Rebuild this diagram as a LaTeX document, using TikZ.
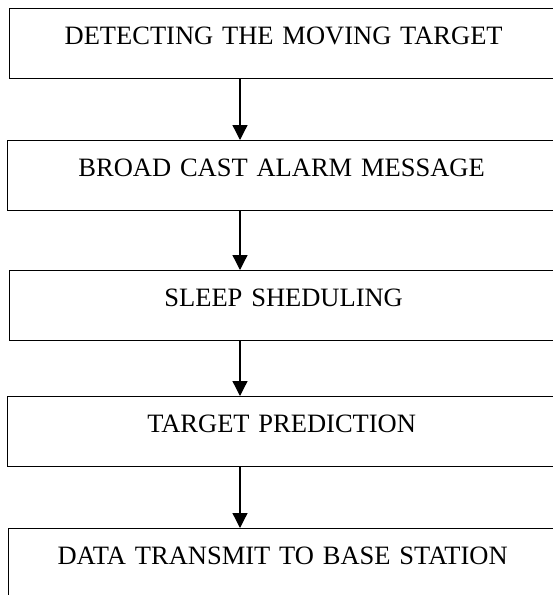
\documentclass[tikz,border=0pt]{standalone}
\usepackage{fontspec}
\setmainfont{Liberation Serif}
\usetikzlibrary{arrows.meta}

\tikzset{
  stagebox/.style={draw,line width=1.3pt,inner sep=0pt,anchor=north west,
    text width=548pt,align=center,text height=36pt,text depth=34pt,
    font=\fontsize{26.5}{30}\selectfont},
  flowarrow/.style={line width=1.3pt,-{Triangle[width=15pt,length=15pt]}}
}

\begin{document}
\begin{tikzpicture}[x=1pt,y=-1pt]
\useasboundingbox (0,0) rectangle (553,595);
\clip (0,0) rectangle (553,595);

% Boxes
\node[stagebox] (detect) at (9,8) {DETECTING THE MOVING TARGET};
\node[stagebox] (alarm) at (7,140) {BROAD CAST ALARM MESSAGE};
\node[stagebox] (sleep) at (9,270) {SLEEP SHEDULING};
\node[stagebox] (predict) at (7,396) {TARGET PREDICTION};
\node[stagebox] (transmit) at (8,528) {DATA TRANSMIT TO BASE STATION};

% Arrows
\coordinate (ax) at (240,0);
\draw[flowarrow] (detect.south -| ax) -- (alarm.north -| ax);
\draw[flowarrow] (alarm.south -| ax) -- (sleep.north -| ax);
\draw[flowarrow] (sleep.south -| ax) -- (predict.north -| ax);
\draw[flowarrow] (predict.south -| ax) -- (transmit.north -| ax);
\end{tikzpicture}
\end{document}
